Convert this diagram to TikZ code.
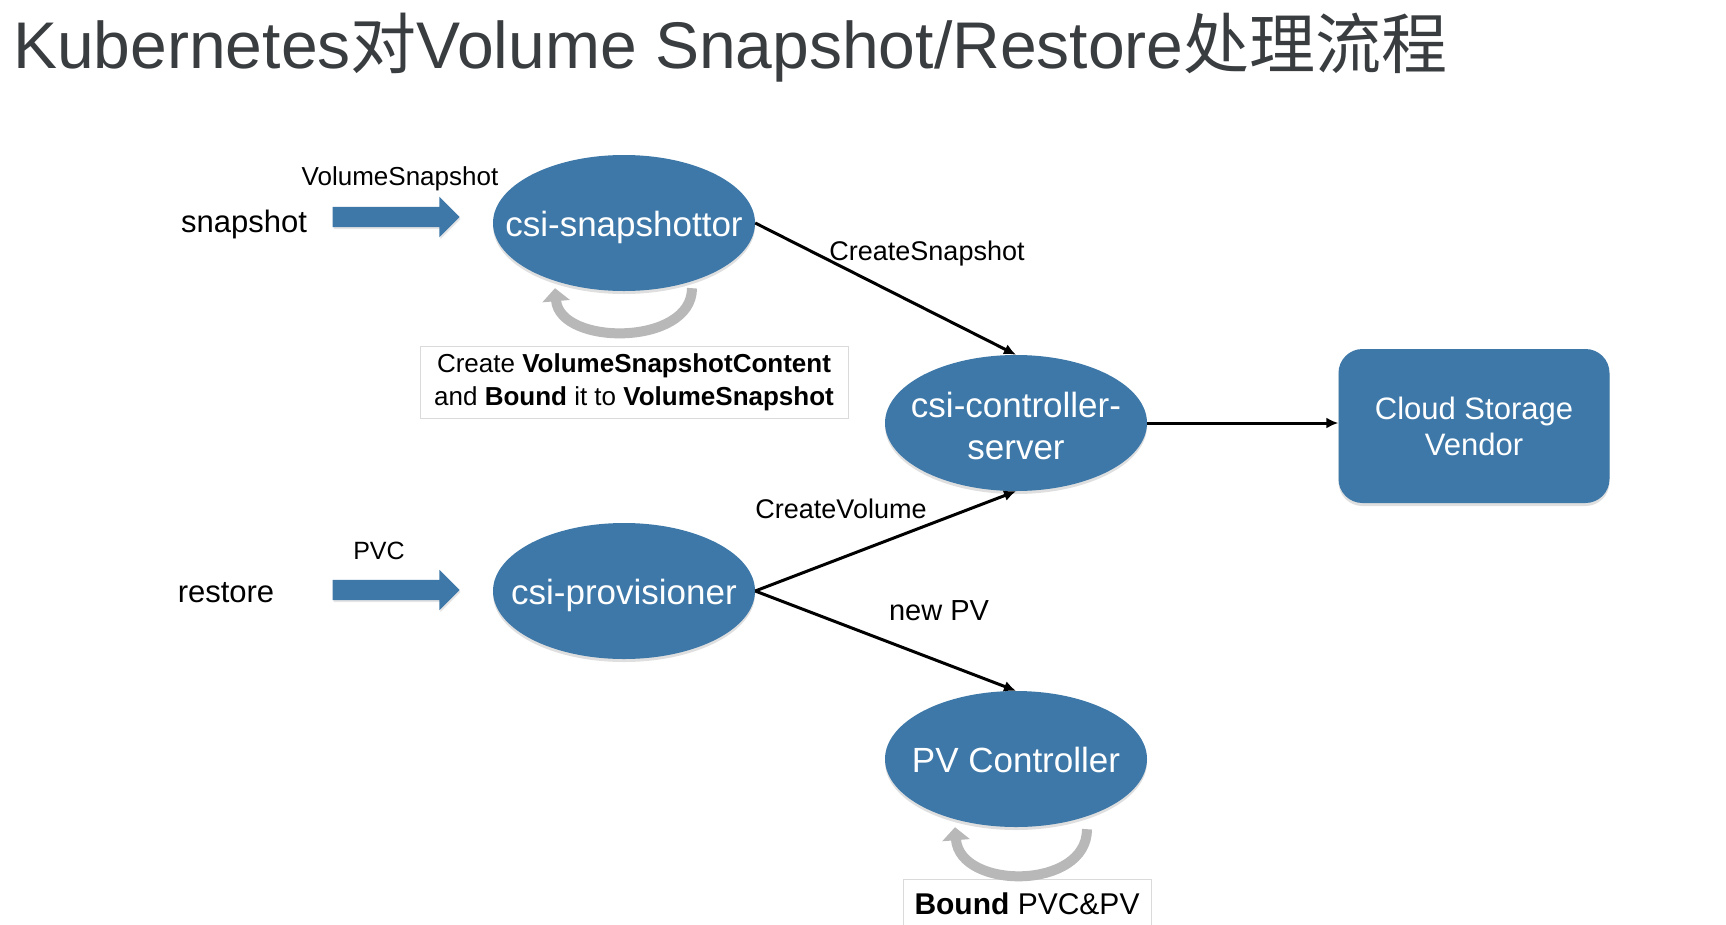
\documentclass[tikz,border=0pt]{standalone}
\usepackage{fontspec}
\setmainfont{Liberation Sans}
\newfontfamily\cjkfont{Noto Sans CJK SC}
\usetikzlibrary{shapes.geometric,shapes.arrows,arrows.meta,shadows}
\definecolor{nodeblue}{HTML}{3D78A8}
\definecolor{titlegray}{HTML}{3A3D40}
\definecolor{loopgray}{HTML}{B8B8B8}
\definecolor{boxgray}{HTML}{DADADA}
\newcommand{\zw}[2][-5pt]{\raisebox{#1}[\height][\depth]{\makebox[0pt]{\begin{tabular}{@{}c@{}}#2\end{tabular}}}}
\begin{document}
\begin{tikzpicture}[x=1pt,y=-1pt,
  ell/.style={ellipse, fill=nodeblue, text=white, minimum width=262pt, minimum height=136pt,
    inner sep=0pt, align=center, font=\fontsize{35}{42}\selectfont,
    drop shadow={opacity=0.25, shadow xshift=0pt, shadow yshift=-3pt}},
  vendor/.style={rectangle, rounded corners=24pt, fill=nodeblue, text=white,
    minimum width=271pt, minimum height=154pt, inner sep=0pt, align=center,
    font=\fontsize{31}{36}\selectfont,
    drop shadow={opacity=0.25, shadow xshift=0pt, shadow yshift=-3pt}},
  fatarrow/.style={single arrow, fill=nodeblue, inner xsep=0pt, inner ysep=10pt,
    minimum height=127pt, single arrow head extend=10pt, single arrow tip angle=90,
    drop shadow={opacity=0.2, shadow xshift=1pt, shadow yshift=-2pt}},
  lbl/.style={inner sep=0pt, font=\fontsize{26}{30}\selectfont},
  side/.style={inner sep=0pt, font=\fontsize{31}{35}\selectfont},
  note/.style={draw=boxgray, line width=1pt, inner sep=0pt, align=center,
    font=\fontsize{26}{33}\selectfont},
  conn/.style={line width=3pt, -{Latex[length=12pt,width=11pt]}},
  loopy/.style={line width=10pt, draw=loopgray, -{Triangle[length=13pt,width=27pt]}}
]
\clip (0,0) rectangle (1726,924);
\fill[white] (0,0) rectangle (1726,924);

\node[anchor=base west, text=titlegray, inner sep=0pt, font=\fontsize{66}{72}\selectfont] (title) at (13,68)
  {Kubernetes{\cjkfont 对}Volume Snapshot/Restore{\cjkfont 处理流程}};

\node[ell] (snap) at (624,223) {\zw{csi-snapshottor}};
\node[ell] (ctrl) at (1016,423) {\zw[-7pt]{csi-controller-\\server}};
\node[ell] (prov) at (624,591) {\zw{csi-provisioner}};
\node[ell] (pvc) at (1016,759) {\zw{PV Controller}};
\node[vendor] (cloud) at (1474,426) {\zw[-4pt]{Cloud Storage\\Vendor}};

\node[fatarrow] (arr1) at (391,217) {};
\node[fatarrow] (arr2) at (391,590) {};

\node[lbl] (vslbl) at (400,179) {VolumeSnapshot};
\node[side] (snaptxt) at (244,224) {snapshot};
\node[side] (restxt) at (226,593) {restore};
\node[lbl, font=\fontsize{25}{28}\selectfont] (pvclbl) at (379,551) {PVC};
\node[lbl, font=\fontsize{27}{30}\selectfont] (cslbl) at (927,254) {CreateSnapshot};
\node[lbl, font=\fontsize{27}{30}\selectfont] (cvlbl) at (841,509) {CreateVolume};
\node[lbl, font=\fontsize{29}{32}\selectfont] (newpv) at (939,611) {new PV};

\node[note, minimum width=428pt, minimum height=72pt] (note1) at (634,382)
  {Create \textbf{VolumeSnapshotContent}\\and \textbf{Bound} it to \textbf{VolumeSnapshot}};
\node[note, minimum width=248pt, minimum height=50pt, font=\fontsize{30}{33}\selectfont] (note2) at (1027,904)
  {\textbf{Bound} PVC\&PV};

\draw[conn] (snap.east) -- (ctrl.north);
\draw[conn] (prov.east) -- (ctrl.south);
\draw[conn] (prov.east) -- (pvc.north);
\draw[conn] (ctrl.east) -- (ctrl.east -| cloud.west);

\draw[loopy] ([shift={(68,-3)}]snap.south) .. controls ([shift={(68,55)}]snap.south) and ([shift={(-64,55)}]snap.south) .. ([shift={(-69,-3)}]snap.south);
\draw[loopy] ([shift={(71,2)}]pvc.south) .. controls ([shift={(71,63)}]pvc.south) and ([shift={(-56,63)}]pvc.south) .. ([shift={(-61,0)}]pvc.south);
\end{tikzpicture}
\end{document}
